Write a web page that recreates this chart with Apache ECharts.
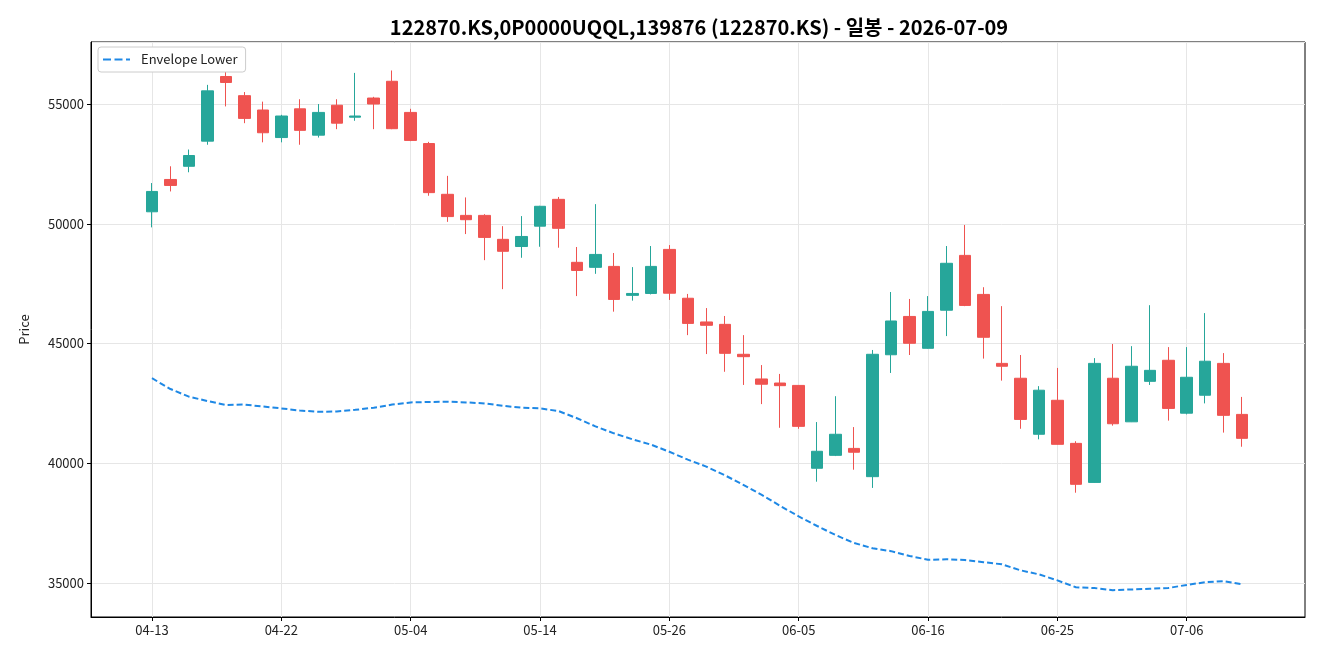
<!DOCTYPE html>
<html>
<head>
<meta charset="utf-8">
<script src="https://cdn.jsdelivr.net/npm/echarts@6/dist/echarts.min.js"></script>
<style>
  html, body { margin: 0; padding: 0; background: #fff; }
  #main { width: 1320px; height: 660px; }
</style>
</head>
<body>
<div id="main"></div>
<script>
// trading days shown on the chart
var dates = ['04-13','04-14','04-15','04-16','04-17','04-20','04-21','04-22','04-23','04-24',
  '04-27','04-28','04-29','04-30','05-04','05-06','05-07','05-08','05-11','05-12',
  '05-13','05-14','05-15','05-18','05-19','05-20','05-21','05-22','05-26','05-27',
  '05-28','05-29','06-01','06-02','06-04','06-05','06-08','06-09','06-10','06-11',
  '06-12','06-15','06-16','06-17','06-18','06-19','06-22','06-23','06-24','06-25',
  '06-26','06-29','06-30','07-01','07-02','07-03','07-06','07-07','07-08','07-09'];

var openP = [50500,51850,52400,53450,56150,55350,54750,53600,54800,53700,
  54950,54450,55250,55950,54650,53350,51230,50350,50350,49350,
  49050,49900,51020,48390,48180,48220,47010,47090,48930,46890,
  45900,45800,44550,43520,43350,43250,39790,40330,40620,39440,
  44530,46130,44800,46390,48680,47050,44170,43550,41210,42630,
  40830,39200,43550,41730,43420,44300,42090,42840,44170,42040];
var highP = [51700,52400,53100,55800,56500,55500,55100,54550,55200,55000,
  55200,56300,55300,56400,54800,53420,52000,51100,50400,49900,
  50320,50750,51120,49030,50820,48780,48190,49070,49110,47070,
  46480,46150,45350,44100,43730,43260,41720,42800,41510,44730,
  47150,46860,46980,49070,49950,47350,46560,44520,43220,43980,
  40920,44390,44980,44890,46600,44850,44850,46270,44600,42770];
var lowP = [49850,51350,52150,53300,54900,54200,53400,53400,53300,53600,
  53950,54300,53950,53950,53450,51170,50080,49570,48480,47270,
  48580,49040,49000,46980,47910,46330,46790,47050,46820,45350,
  44560,43820,43270,42470,41480,41440,39230,40300,39730,38970,
  43770,44520,44780,45310,46560,44370,43450,41440,41000,40780,
  38770,39190,41570,41720,43270,41780,42040,42500,41280,40690];
var closeP = [51350,51600,52850,55550,55900,54400,53800,54500,53900,54650,
  54200,54500,55000,53970,53480,51300,50300,50170,49430,48850,
  49470,50730,49810,48050,48720,46840,47090,48220,47100,45840,
  45760,44590,44450,43300,43240,41540,40500,41210,40460,44550,
  45940,45010,46340,48350,46590,45260,44050,41830,43050,40790,
  39120,44170,41650,44050,43880,42290,43590,44260,42000,41040];

var envLower = [43550,43100,42780,42600,42430,42450,42370,42290,42200,42150,
  42160,42230,42320,42450,42540,42560,42570,42540,42500,42400,
  42320,42290,42180,41880,41540,41250,41000,40780,40480,40150,
  39860,39500,39100,38680,38220,37780,37380,37000,36670,36450,
  36330,36130,35970,35990,35960,35870,35780,35530,35360,35110,
  34820,34790,34700,34730,34760,34790,34920,35030,35080,34950];

var tickIdx = [0, 7, 14, 21, 28, 35, 42, 49, 56];

var candleData = dates.map(function (d, i) {
  return [i, openP[i], closeP[i], lowP[i], highP[i]];
});
var envData = envLower.map(function (v, i) { return [i, v]; });

var chartDom = document.getElementById('main');
var myChart = echarts.init(chartDom);
var font = "'Noto Sans CJK KR', 'Noto Sans', sans-serif";

// dashed line icon for the legend
var dashIcon = 'path://M0,0H8V2H0Z M11.5,0H19.5V2H11.5Z M23,0H27V2H23Z';

var option = {
  animation: false,
  backgroundColor: '#fff',
  textStyle: { fontFamily: font },
  title: {
    text: '122870.KS,0P0000UQQL,139876 (122870.KS) - 일봉 - 2026-07-09',
    left: 694,
    textAlign: 'center',
    top: 12,
    textStyle: { fontSize: 20, fontWeight: 'bold', color: '#000', fontFamily: font }
  },
  legend: {
    data: [{ name: 'Envelope Lower', icon: dashIcon }],
    left: 98,
    top: 47,
    orient: 'vertical',
    backgroundColor: '#fff',
    borderColor: '#cccccc',
    borderWidth: 1,
    borderRadius: 3,
    padding: [5, 8, 5, 5],
    itemWidth: 27,
    itemHeight: 2,
    itemStyle: { color: '#1e88e5' },
    textStyle: { fontSize: 13, color: '#222', fontFamily: font, padding: [0, 0, 0, 6], height: 15, lineHeight: 15 }
  },
  grid: {
    left: 91, right: 15, top: 42, bottom: 43,
    show: true, borderColor: '#000', borderWidth: 1
  },
  xAxis: {
    type: 'value',
    min: -3.3,
    max: 62.4,
    axisLine: { show: true, onZero: false, lineStyle: { color: '#000' } },
    axisTick: { show: true, length: 4, customValues: tickIdx, lineStyle: { color: '#000' } },
    axisLabel: {
      customValues: tickIdx,
      color: '#222', fontSize: 13, margin: 7,
      formatter: function (v) { return dates[Math.round(v)] || ''; }
    },
    splitLine: { show: true, lineStyle: { color: '#e6e6e6', width: 1 } }
  },
  yAxis: {
    type: 'value',
    min: 33580,
    max: 57590,
    name: 'Price',
    nameLocation: 'middle',
    nameGap: 60,
    nameTextStyle: { fontSize: 13, color: '#222' },
    axisLine: { show: true, onZero: false, lineStyle: { color: '#000' } },
    axisTick: { show: true, length: 4, lineStyle: { color: '#000' } },
    axisLabel: {
      color: '#222', fontSize: 13, margin: 7,
      showMinLabel: false, showMaxLabel: false,
      formatter: function (v) { return String(v); }
    },
    splitLine: { show: true, lineStyle: { color: '#e6e6e6', width: 1 } }
  },
  series: [
    {
      type: 'candlestick',
      name: 'OHLC',
      data: candleData,
      encode: { x: 0, y: [1, 2, 3, 4] },
      barWidth: 12,
      itemStyle: {
        color: '#26a69a',
        color0: '#ef5350',
        borderColor: '#26a69a',
        borderColor0: '#ef5350',
        borderWidth: 1
      }
    },
    {
      type: 'line',
      name: 'Envelope Lower',
      data: envData,
      symbol: 'none',
      smooth: false,
      lineStyle: { color: '#1e88e5', width: 2, type: [6, 3] },
      itemStyle: { color: '#1e88e5' },
      z: 3
    }
  ]
};

option && myChart.setOption(option);
window.addEventListener('resize', myChart.resize);
</script>
</body>
</html>
